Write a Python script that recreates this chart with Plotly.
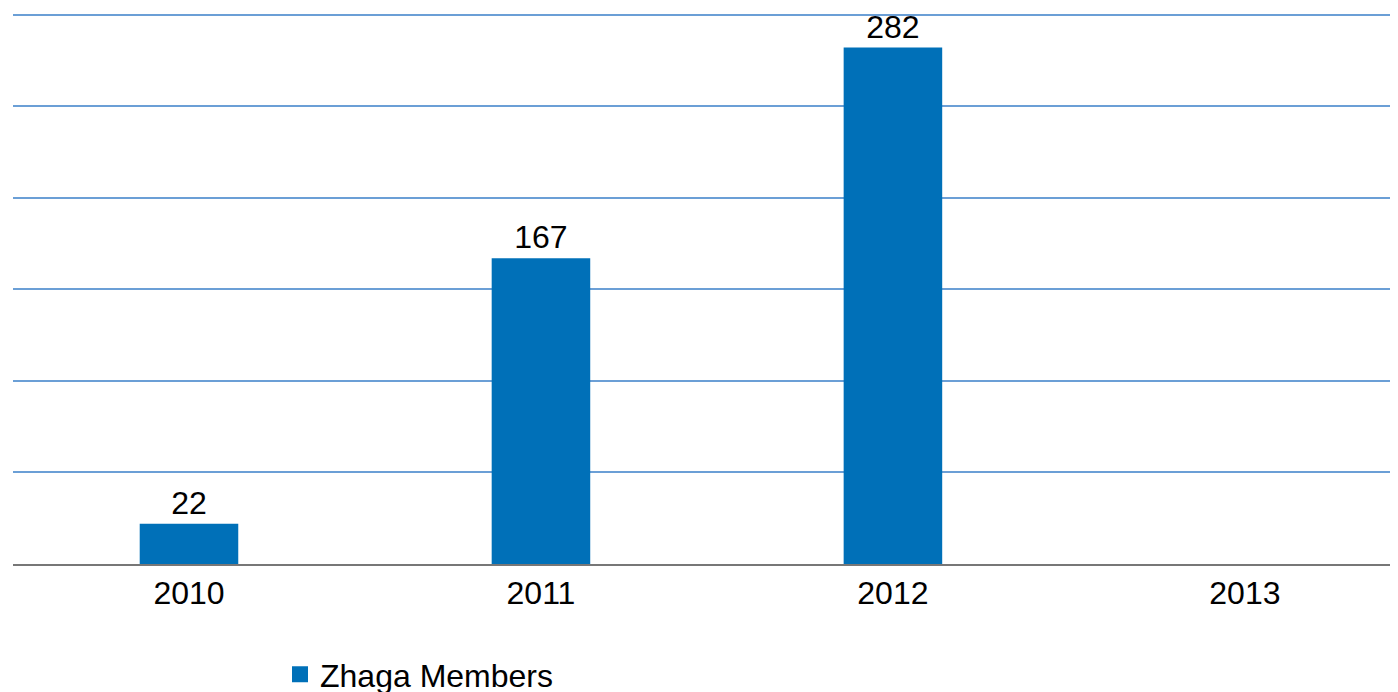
import plotly.graph_objects as go

years = ["2010", "2011", "2012", "2013"]
members = [22, 167, 282, None]
labels = ["22", "167", "282", ""]
series_name = "Zhaga Members"

FONT = "Liberation Sans, Arial, sans-serif"

fig = go.Figure()
fig.add_trace(go.Bar(
    x=years, y=members, name=series_name,
    marker=dict(color="#0070b8", line=dict(width=0)),
    width=0.28,
    text=labels, textposition="outside",
    textfont=dict(family=FONT, size=32, color="#000000"),
    cliponaxis=False, showlegend=False,
))
# legend key for the series
fig.add_trace(go.Scatter(
    x=[None], y=[None], mode="markers", name=series_name,
    marker=dict(symbol="square", size=20, color="#0070b8"),
    showlegend=True,
))

fig.update_layout(
    width=1390, height=684,
    margin=dict(l=5, r=0, t=3, b=128, autoexpand=False),
    paper_bgcolor="white", plot_bgcolor="white",
    font=dict(family=FONT, size=32, color="#000000"),
    showlegend=True,
    legend=dict(orientation="h", x=267 / 1385, xanchor="left",
                y=-0.150, yanchor="top",
                font=dict(size=32), bgcolor="rgba(0,0,0,0)"),
)
fig.update_xaxes(
    type="category", range=[-0.5, 3.435], automargin=False,
    showline=True, linecolor="#777777", linewidth=2,
    showgrid=False, ticks="", tickfont=dict(size=32),
)
fig.update_yaxes(
    range=[0, 302], dtick=50, showgrid=True, gridcolor="#6b9fd6", gridwidth=1.5,
    showticklabels=False, zeroline=False, showline=False, automargin=False,
)

fig.write_html("out.html")
